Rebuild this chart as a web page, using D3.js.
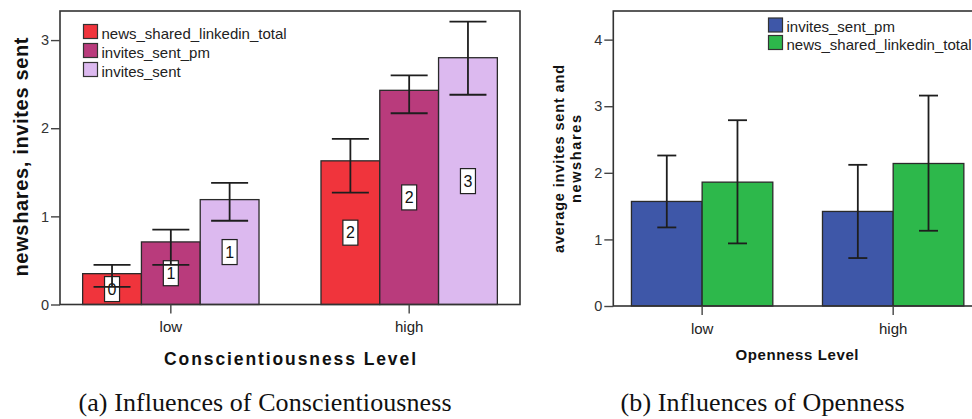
<!DOCTYPE html>
<html>
<head>
<meta charset="utf-8">
<script src="https://cdn.jsdelivr.net/npm/d3@7"></script>
<style>
  body { margin: 0; background: #fff; }
  svg { display: block; }
</style>
</head>
<body>
<svg id="chart" width="972" height="419"></svg>
<script>
// ---------- Panel (a): Conscientiousness ----------
const conscLevels = ["low", "high"];
const conscSeries = ["news_shared_linkedin_total", "invites_sent_pm", "invites_sent"];
const conscColors = ["#f0343c", "#b93b7c", "#dcb9ef"];
// mean per series (rows) and level (columns)
const conscMeans  = [[0.35, 1.63], [0.71, 2.43], [1.19, 2.80]];
const conscCiLow  = [[0.20, 1.27], [0.45, 2.17], [0.95, 2.38]];
const conscCiHigh = [[0.45, 1.88], [0.85, 2.60], [1.38, 3.21]];
const conscTicks = [0, 1, 2, 3];

// ---------- Panel (b): Openness ----------
const openLevels = ["low", "high"];
const openSeries = ["invites_sent_pm", "news_shared_linkedin_total"];
const openColors = ["#3e57a8", "#2db84b"];
const openMeans  = [[1.57, 1.42], [1.86, 2.14]];
const openCiLow  = [[1.18, 0.72], [0.94, 1.13]];
const openCiHigh = [[2.26, 2.12], [2.79, 3.16]];
const openTicks = [0, 1, 2, 3, 4];

const SANS = "'Liberation Sans', Arial, Helvetica, sans-serif";
const SERIF = "'Liberation Serif', 'Times New Roman', serif";
const svg = d3.select("#chart");

function panel(cfg) {
  const g = svg.append("g");
  const x = d3.scaleBand().domain(cfg.levels).range([cfg.x0, cfg.x1])
    .paddingInner(0.26).paddingOuter(0.095);
  const xs = d3.scaleBand().domain(cfg.series).range([0, x.bandwidth()]);
  const y = d3.scaleLinear().domain([0, cfg.yMax]).range([cfg.base, cfg.top]);

  const rows = [];
  cfg.series.forEach((s, si) => cfg.levels.forEach((l, li) => rows.push({
    s, si, l,
    v: cfg.means[si][li], lo: cfg.ciLow[si][li], hi: cfg.ciHigh[si][li],
    cx: x(l) + xs(s) + xs.bandwidth() / 2
  })));

  // bars
  g.append("g").selectAll("rect").data(rows).join("rect")
    .attr("x", d => x(d.l) + xs(d.s))
    .attr("y", d => y(d.v))
    .attr("width", xs.bandwidth())
    .attr("height", d => y(0) - y(d.v))
    .attr("fill", d => cfg.colors[d.si])
    .attr("stroke", "#2a2a2a").attr("stroke-width", 1.3);

  // rounded value labels inside the bars
  if (cfg.valueLabels) {
    const lab = g.append("g").selectAll("g").data(rows).join("g")
      .attr("transform", d => `translate(${d.cx},${y(d.v / 2)})`);
    lab.append("rect").attr("x", -7.5).attr("y", -12.5).attr("width", 15).attr("height", 25)
      .attr("fill", "#fff").attr("stroke", "#222").attr("stroke-width", 1.2);
    lab.append("text").attr("text-anchor", "middle").attr("dy", "0.36em")
      .attr("font-family", SANS).attr("font-size", 16).attr("fill", "#111")
      .text(d => d3.format(".0f")(d.v));
  }

  // error bars
  const eb = g.append("g").attr("stroke", "#1e1e1e").attr("stroke-width", 1.8).attr("fill", "none");
  rows.forEach(d => {
    eb.append("line").attr("x1", d.cx).attr("x2", d.cx).attr("y1", y(d.lo)).attr("y2", y(d.hi));
    [d.lo, d.hi].forEach(v => eb.append("line")
      .attr("x1", d.cx - cfg.cap / 2).attr("x2", d.cx + cfg.cap / 2)
      .attr("y1", y(v)).attr("y2", y(v)));
  });

  // frame
  g.append("rect").attr("x", cfg.x0).attr("y", cfg.top)
    .attr("width", cfg.x1 - cfg.x0).attr("height", cfg.base - cfg.top)
    .attr("fill", "none").attr("stroke", "#333").attr("stroke-width", 1.6);

  // axes
  const ya = g.append("g").attr("transform", `translate(${cfg.x0},0)`)
    .call(d3.axisLeft(y).tickValues(cfg.ticks).tickFormat(d3.format("d")).tickSize(9).tickPadding(2));
  ya.select(".domain").remove();
  ya.selectAll("line").attr("stroke", "#444").attr("stroke-width", 1.4);
  ya.selectAll("text").attr("font-family", SANS).attr("font-size", 14.5).attr("fill", "#333");

  const xa = g.append("g").attr("transform", `translate(0,${cfg.base})`)
    .call(d3.axisBottom(x).tickSize(9).tickPadding(8));
  xa.select(".domain").remove();
  xa.selectAll("line").attr("stroke", "#444").attr("stroke-width", 1.4);
  xa.selectAll("text").attr("font-family", SANS).attr("font-size", 15).attr("fill", "#222");

  // legend
  const lg = g.append("g").selectAll("g").data(cfg.series).join("g")
    .attr("transform", (d, i) => `translate(${cfg.legend.x},${cfg.legend.y + i * cfg.legend.dy})`);
  lg.append("rect").attr("x", 0).attr("y", -14).attr("width", 14).attr("height", 14)
    .attr("fill", (d, i) => cfg.colors[i]).attr("stroke", "#333").attr("stroke-width", 1.2);
  lg.append("text").attr("x", 18).attr("y", 0)
    .attr("font-family", SANS).attr("font-size", 15).attr("fill", "#222").text(d => d);

  // axis titles
  g.append("text").attr("x", cfg.xTitle.x).attr("y", cfg.xTitle.y)
    .attr("text-anchor", "middle").attr("font-family", SANS).attr("font-weight", "bold")
    .attr("font-size", cfg.xTitle.size).attr("textLength", cfg.xTitle.len)
    .attr("lengthAdjust", "spacing").attr("fill", "#111").text(cfg.xTitle.text);

  cfg.yTitle.lines.forEach((t, i) => {
    g.append("text")
      .attr("transform", `translate(${cfg.yTitle.x[i]},${cfg.yTitle.y}) rotate(-90)`)
      .attr("text-anchor", "middle").attr("font-family", SANS).attr("font-weight", "bold")
      .attr("font-size", cfg.yTitle.size).attr("textLength", cfg.yTitle.len[i])
      .attr("lengthAdjust", "spacing").attr("fill", "#111").text(t);
  });

  // caption
  g.append("text").attr("x", cfg.caption.x).attr("y", 411)
    .attr("text-anchor", "middle").attr("font-family", SERIF).attr("font-size", 26)
    .attr("textLength", cfg.caption.len).attr("lengthAdjust", "spacing")
    .attr("fill", "#111").text(cfg.caption.text);
}

panel({
  levels: conscLevels, series: conscSeries, colors: conscColors,
  means: conscMeans, ciLow: conscCiLow, ciHigh: conscCiHigh, ticks: conscTicks,
  x0: 60, x1: 520, top: 11, base: 304.5, yMax: 3.33, cap: 37, valueLabels: true,
  legend: { x: 83.5, y: 38.5, dy: 19 },
  xTitle: { text: "Conscientiousness Level", x: 290, y: 365, size: 17.5, len: 252 },
  yTitle: { lines: ["newshares, invites sent"], x: [28], y: 157, size: 20, len: [239] },
  caption: { text: "(a) Influences of Conscientiousness", x: 265, len: 373 }
});

panel({
  levels: openLevels, series: openSeries, colors: openColors,
  means: openMeans, ciLow: openCiLow, ciHigh: openCiHigh, ticks: openTicks,
  x0: 613.3, x1: 982, top: 11, base: 306, yMax: 4.43, cap: 19, valueLabels: false,
  legend: { x: 768.5, y: 32, dy: 17.5 },
  xTitle: { text: "Openness Level", x: 797, y: 360, size: 15, len: 123 },
  yTitle: { lines: ["average invites sent and", "newshares"], x: [564, 581], y: 159, size: 14.5, len: [188, 88] },
  caption: { text: "(b) Influences of Openness", x: 762.5, len: 284 }
});
</script>
</body>
</html>
